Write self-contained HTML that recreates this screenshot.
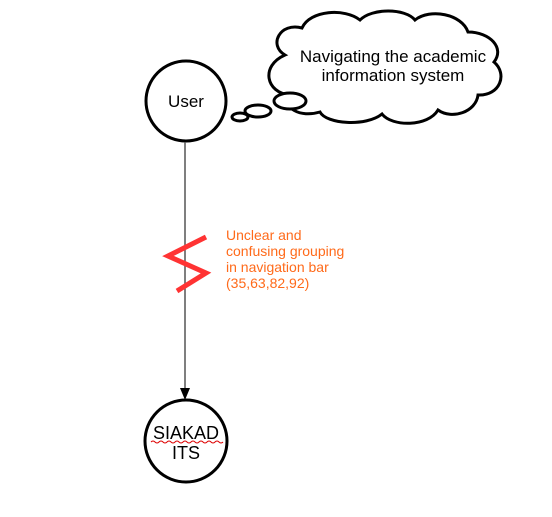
<!DOCTYPE html>
<html><head><style>
html,body{margin:0;padding:0;background:#fff;}
svg{display:block;font-family:"Liberation Sans",sans-serif;}
</style></head><body>
<svg width="552" height="517" viewBox="0 0 552 517" xmlns="http://www.w3.org/2000/svg">
<!-- cloud -->
<path d="M285,55 C268,45 280,22 302,28 C310,10 345,8 360,20 C372,8 405,8 415,20 C430,8 462,14 468,32 C490,32 505,48 494,62 C508,74 500,96 478,95 C476,112 452,120 438,110 C428,127 392,127 382,114 C366,127 326,124 320,112 C300,118 282,108 290,95 C266,93 260,66 285,55 Z" fill="#fff" stroke="#000" stroke-width="3"/>
<ellipse cx="240" cy="117" rx="8" ry="4" fill="#fff" stroke="#000" stroke-width="3"/>
<ellipse cx="258" cy="111" rx="13" ry="6" fill="#fff" stroke="#000" stroke-width="3"/>
<ellipse cx="290" cy="101" rx="16" ry="8" fill="#fff" stroke="#000" stroke-width="3"/>
<text x="393" y="62" font-size="17" text-anchor="middle" fill="#000">Navigating the academic</text>
<text x="393" y="81" font-size="17" text-anchor="middle" fill="#000">information system</text>
<!-- user -->
<circle cx="186" cy="101" r="40" fill="#fff" stroke="#000" stroke-width="3"/>
<text x="186" y="107" font-size="17" text-anchor="middle">User</text>
<!-- connector -->
<line x1="185" y1="142" x2="185" y2="390" stroke="#555" stroke-width="1.5"/>
<polygon points="180,388 190,388 185,400" fill="#000"/>
<!-- lightning -->
<polyline points="206,237 168,256 206,273 177,291" fill="none" stroke="#f33" stroke-width="5"/>
<g font-size="14" fill="#ff6a1a">
<text x="226" y="240">Unclear and</text>
<text x="226" y="256">confusing grouping</text>
<text x="226" y="272">in navigation bar</text>
<text x="226" y="288">(35,63,82,92)</text>
</g>
<!-- siakad -->
<circle cx="186" cy="441" r="41" fill="#fff" stroke="#000" stroke-width="3"/>
<text x="186" y="439" font-size="18" text-anchor="middle">SIAKAD</text>
<text x="186" y="459" font-size="18" text-anchor="middle">ITS</text>
<path d="M151,442 q2,-2 4,0 t4,0 t4,0 t4,0 t4,0 t4,0 t4,0 t4,0 t4,0 t4,0 t4,0 t4,0 t4,0 t4,0 t4,0 t4,0 t4,0 t4,0" fill="none" stroke="#d00" stroke-width="1"/>
</svg>
</body></html>
